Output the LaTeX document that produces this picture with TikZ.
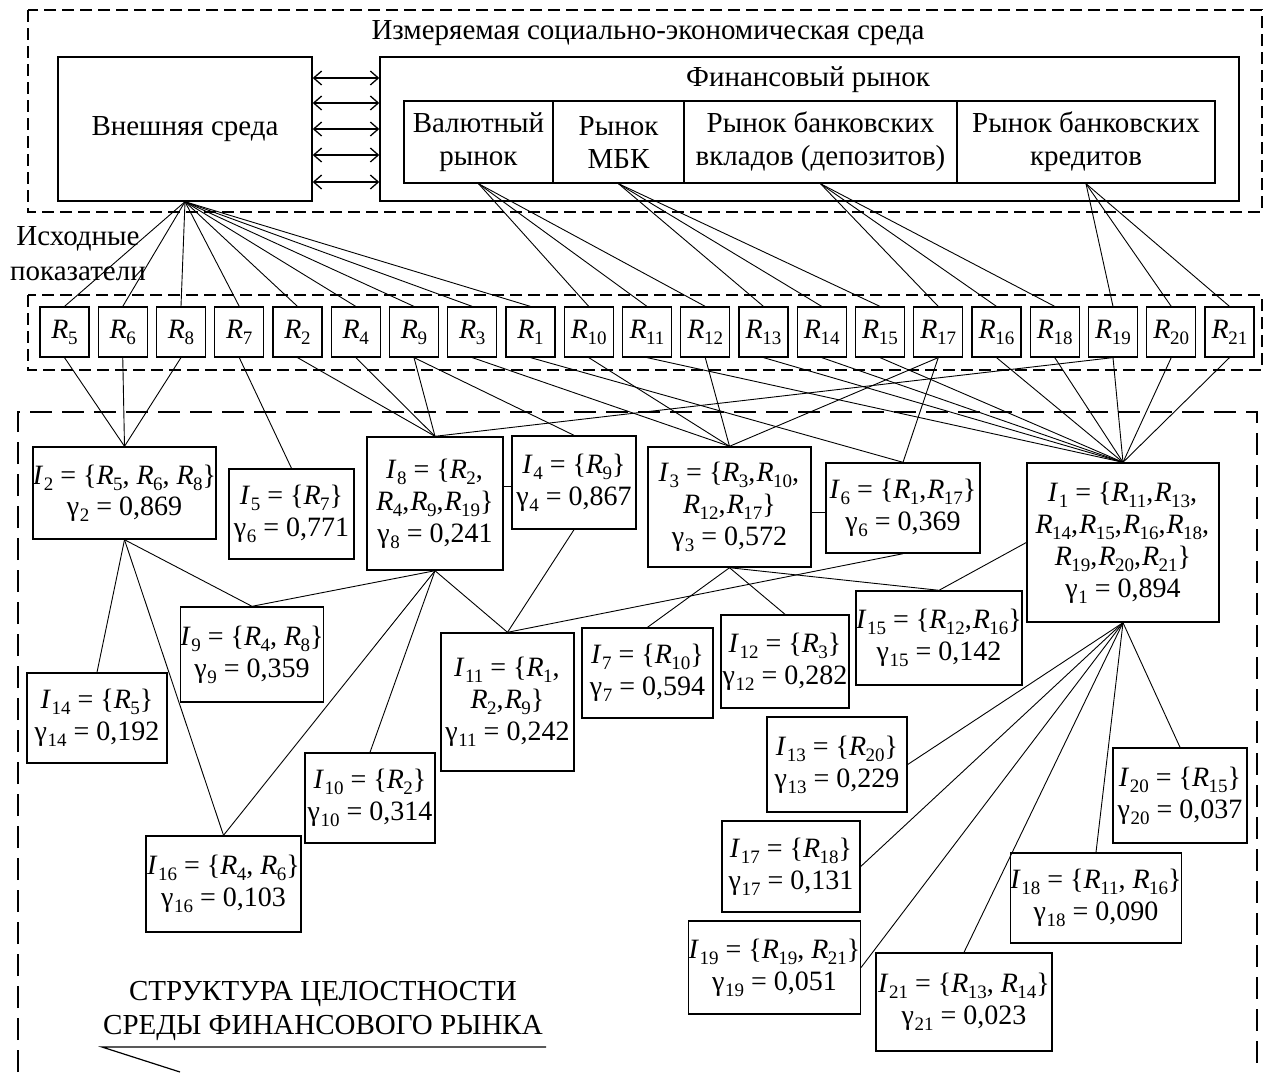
\documentclass[tikz,border=0pt]{standalone}
\usepackage{fontspec}
\setmainfont{Liberation Serif}
\usetikzlibrary{arrows.meta}
\newcommand\sbs[1]{\raisebox{-0.22em}{\fontsize{19}{19}\selectfont #1}}
\newcommand\vR[1]{\textit{R}\kern-0.02em\sbs{#1}}
\newcommand\vI[1]{\textit{I}\kern0.02em\sbs{#1}}
\newcommand\vg[1]{γ\kern0.02em\sbs{#1}}
\newcommand\cm{,\kern0.04em}
\begin{document}
\begin{tikzpicture}[x=1pt,y=-1pt,font=\fontsize{29}{33}\selectfont,
  box/.style={draw,line width=1.4pt,inner sep=0pt,align=center},
  ibox/.style={box,font=\fontsize{28}{32}\selectfont},
  rbox/.style={draw,line width=1.2pt,inner sep=0pt,minimum width=49pt,minimum height=50pt,font=\fontsize{28}{32}\selectfont},
  con/.style={line width=0.9pt},
  arr/.style={line width=1.3pt,{Straight Barb[length=8pt,width=14pt]}-{Straight Barb[length=8pt,width=14pt]}},
  dashA/.style={line width=1.3pt,dash pattern=on 12pt off 6pt},
  dashB/.style={line width=1.3pt,dash pattern=on 22pt off 10pt},
  txt/.style={inner sep=0pt,align=center}]
\useasboundingbox (0,0) rectangle (1266,1072);
\clip (0,0) rectangle (1266,1072);

% dashed frames
\draw[dashA] (28,10) rectangle (1262,212);
\draw[dashA] (28,295) rectangle (1262,370);
\draw[dashB] (18,1072) -- (18,412) -- (1257,412) -- (1257,1072);

% top section
\node[txt] (title) at (648,33) {Измеряемая социально-экономическая среда};
\node[box,minimum width=254pt,minimum height=144pt] (ext) at (185,129) {Внешняя среда};
\node[box,minimum width=859pt,minimum height=144pt] (fin) at (809.5,129) {};
\node[txt] (fintitle) at (808,80) {Финансовый рынок};
\begin{scope}[every node/.style={box,font=\fontsize{29}{33}\selectfont,minimum height=82pt}]
\node[minimum width=149pt] (val) at (478.5,142) {Валютный\\рынок};
\node[minimum width=131pt] (mbk) at (618.5,142) {Рынок\\МБК};
\node[minimum width=273pt] (dep) at (820.5,142) {Рынок банковских\\вкладов (депозитов)};
\node[minimum width=258pt] (cred) at (1086,142) {Рынок банковских\\кредитов};
\end{scope}
\foreach \yy in {78,103,129,155,182}{
  \coordinate (a\yy) at (0,\yy);
  \draw[arr] (ext.east |- a\yy) -- (fin.west |- a\yy);
}

\node[txt,font=\fontsize{29}{35}\selectfont] (ish) at (78,254) {Исходные\\показатели};

% R row
\foreach \lab [count=\i from 0] in {5,6,8,7,2,4,9,3,1,10,11,12,13,14,15,17,16,18,19,20,21}
  \node[rbox] (R\lab) at (64.5+58.25*\i,332) {\vR{\lab}};

\foreach \r in {5,6,8,7,2,4,9,3,1} \draw[con] (ext.south) -- (R\r.north);
\foreach \r in {10,11,12} \draw[con] (val.south) -- (R\r.north);
\foreach \r in {13,14,15} \draw[con] (mbk.south) -- (R\r.north);
\foreach \r in {17,16,18} \draw[con] (dep.south) -- (R\r.north);
\foreach \r in {19,20,21} \draw[con] (cred.south) -- (R\r.north);

% I boxes
\node[ibox,font=\fontsize{28}{31}\selectfont,minimum width=183pt,minimum height=92pt] (I2) at (124.5,493) {\vI{2} = \{\vR{5}, \vR{6}, \vR{8}\}\\ \vg{2} = 0,869};
\node[ibox,minimum width=125pt,minimum height=90pt] (I5) at (291.5,514) {\vI{5} = \{\vR{7}\}\\ \vg{6} = 0,771};
\node[ibox,minimum width=136pt,minimum height=133pt] (I8) at (435,503.5) {\vI{8} = \{\vR{2}\cm\\ \vR{4}\cm\vR{9}\cm\vR{19}\}\\ \vg{8} = 0,241};
\node[ibox,minimum width=124pt,minimum height=93pt] (I4) at (574,482.5) {\vI{4} = \{\vR{9}\}\\ \vg{4} = 0,867};
\node[ibox,minimum width=163pt,minimum height=120pt] (I3) at (729.5,507) {\vI{3} = \{\vR{3}\cm\vR{10}\cm\\ \vR{12}\cm\vR{17}\}\\ \vg{3} = 0,572};
\node[ibox,minimum width=154pt,minimum height=90pt] (I6) at (903,508) {\vI{6} = \{\vR{1}\cm\vR{17}\}\\ \vg{6} = 0,369};
\node[ibox,minimum width=192pt,minimum height=159pt] (I1) at (1123,542.5) {\vI{1} = \{\vR{11}\cm\vR{13}\cm\\ \vR{14}\cm\vR{15}\cm\vR{16}\cm\vR{18}\cm\\ \vR{19}\cm\vR{20}\cm\vR{21}\}\\ \vg{1} = 0,894};
\node[ibox,minimum width=140pt,minimum height=95pt] (I9) at (252,654.5) {\vI{9} = \{\vR{4}, \vR{8}\}\\ \vg{9} = 0,359};
\node[ibox,minimum width=140pt,minimum height=90pt] (I14) at (97,718) {\vI{14} = \{\vR{5}\}\\ \vg{14} = 0,192};
\node[ibox,minimum width=133pt,minimum height=138pt] (I11) at (507.5,702) {\vI{11} = \{\vR{1}\cm\\ \vR{2}\cm\vR{9}\}\\ \vg{11} = 0,242};
\node[ibox,minimum width=131pt,minimum height=90pt] (I7) at (647.5,673) {\vI{7} = \{\vR{10}\}\\ \vg{7} = 0,594};
\node[ibox,minimum width=128pt,minimum height=93pt] (I12) at (785,661.5) {\vI{12} = \{\vR{3}\}\\ \vg{12} = 0,282};
\node[ibox,minimum width=162pt,minimum height=94pt] (I15) at (939,638) {\vI{15} = \{\vR{12}\cm\vR{16}\}\\ \vg{15} = 0,142};
\node[ibox,minimum width=130pt,minimum height=90pt] (I10) at (370,798) {\vI{10} = \{\vR{2}\}\\ \vg{10} = 0,314};
\node[ibox,minimum width=155pt,minimum height=96pt] (I16) at (223.5,884) {\vI{16} = \{\vR{4}, \vR{6}\}\\ \vg{16} = 0,103};
\node[ibox,minimum width=140pt,minimum height=95pt] (I13) at (837,764.5) {\vI{13} = \{\vR{20}\}\\ \vg{13} = 0,229};
\node[ibox,minimum width=138pt,minimum height=91pt] (I17) at (791,866.5) {\vI{17} = \{\vR{18}\}\\ \vg{17} = 0,131};
\node[ibox,minimum width=171pt,minimum height=93pt] (I19) at (774.5,967.5) {\vI{19} = \{\vR{19}, \vR{21}\}\\ \vg{19} = 0,051};
\node[ibox,minimum width=176pt,minimum height=98pt] (I21) at (964,1002) {\vI{21} = \{\vR{13}, \vR{14}\}\\ \vg{21} = 0,023};
\node[ibox,minimum width=164pt,minimum height=90pt] (I18) at (1096,898) {\vI{18} = \{\vR{11}, \vR{16}\}\\ \vg{18} = 0,090};
\node[ibox,minimum width=134pt,minimum height=95pt] (I20) at (1180,795.5) {\vI{20} = \{\vR{15}\}\\ \vg{20} = 0,037};

% R -> I
\foreach \r in {5,6,8} \draw[con] (R\r.south) -- (I2.north);
\draw[con] (R7.south) -- (I5.north);
\foreach \r in {2,4,9,19} \draw[con] (R\r.south) -- (I8.north);
\draw[con] (R9.south) -- (I4.north);
\foreach \r in {3,10,12,17} \draw[con] (R\r.south) -- (I3.north);
\foreach \r in {1,17} \draw[con] (R\r.south) -- (I6.north);
\foreach \r in {11,13,14,15,16,18,19,20,21} \draw[con] (R\r.south) -- (I1.north);

% I -> I
\draw[con] ([yshift=-4pt]I4.west) -- ([yshift=-4pt]I4.west -| I8.east);
\draw[con] ([yshift=-4pt]I6.west) -- ([yshift=-4pt]I6.west -| I3.east);
\foreach \t in {I14,I16,I9} \draw[con] (I2.south) -- (\t.north);
\foreach \t in {I9,I16,I10,I11} \draw[con] (I8.south) -- (\t.north);
\draw[con] (I4.south) -- (I11.north);
\draw[con] (I6.south) -- (I11.north);
\foreach \t in {I7,I12,I15} \draw[con] (I3.south) -- (\t.north);
\draw[con] (I1.west) -- (I15.north);
\foreach \t in {I13,I17,I19} \draw[con] (I1.south) -- (\t.east);
\foreach \t in {I21,I18,I20} \draw[con] (I1.south) -- (\t.north);

% caption
\node[txt,font=\fontsize{29}{34}\selectfont] (cap) at (323,1011) {СТРУКТУРА ЦЕЛОСТНОСТИ\\СРЕДЫ ФИНАНСОВОГО РЫНКА};
\coordinate (u1) at (102,1047);
\coordinate (u2) at (546,1047);
\coordinate (u3) at (180,1072);
\draw[con,line width=1.2pt] (u2) -- (u1) -- (u3);
\end{tikzpicture}
\end{document}
